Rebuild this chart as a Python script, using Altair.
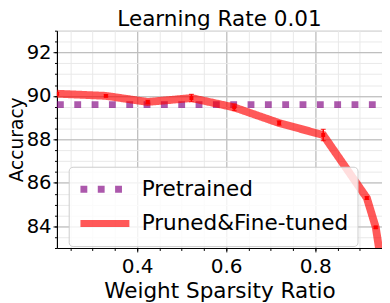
import altair as alt
import pandas as pd

# ---- data ----
sparsity = [0.22, 0.33, 0.424, 0.522, 0.618, 0.719, 0.818, 0.916, 0.936, 0.95]
accuracy = [90.1, 90.0, 89.72, 89.9, 89.47, 88.75, 88.2, 85.3, 83.95, 82.1]
error = [0.05, 0.05, 0.08, 0.17, 0.15, 0.1, 0.26, 0.06, 0.05, 0.1]
pretrained_x = [0.22, 0.95]
pretrained_acc = 89.6
series_names = ["Pretrained", "Pruned&Fine-tuned"]
x_major = [0.4, 0.6, 0.8]
x_minor = [round(0.25 + 0.05 * i, 2) for i in range(15)]
y_major = [84, 86, 88, 90, 92]
y_minor = [83 + 0.5 * i for i in range(21)]

FONT = "DejaVu Sans"

pre = pd.DataFrame({"x": pretrained_x, "y": [pretrained_acc] * len(pretrained_x),
                    "series": series_names[0]})
ft = pd.DataFrame({"x": sparsity, "y": accuracy, "err": error,
                   "series": series_names[1]})
ft["lo"] = ft["y"] - ft["err"]
ft["hi"] = ft["y"] + ft["err"]

xs = alt.Scale(domain=[0.22, 0.95], nice=False, zero=False)
ys = alt.Scale(domain=[83, 93], nice=False, zero=False)

color = alt.Color("series:N", scale=alt.Scale(domain=series_names,
                                              range=["#800080", "#ff0000"]),
                  legend=alt.Legend(title=None))
dash = alt.StrokeDash("series:N", scale=alt.Scale(domain=series_names,
                                                  range=[[7, 10.7], [1, 0]]),
                      legend=alt.Legend(title=None))

minor_x_axis = alt.Axis(values=x_minor, orient="bottom", labels=False, domain=False,
                        ticks=True, tickSize=2.5, tickColor="black", title=None,
                        grid=True, gridColor="#e8e8e8", gridWidth=1)
minor_y_axis = alt.Axis(values=y_minor, orient="left", labels=False, domain=False,
                        ticks=True, tickSize=2.5, tickColor="black", title=None,
                        grid=True, gridColor="#e8e8e8", gridWidth=1)

major_x_axis = alt.Axis(values=x_major, orient="bottom", format=".1f",
                        domain=True, domainColor="black", domainWidth=1.2,
                        ticks=True, tickSize=4, tickColor="black",
                        grid=True, gridColor="#b3b3b3", gridWidth=1,
                        labelFont=FONT, labelFontSize=20.5, labelColor="black",
                        labelPadding=5, title="Weight Sparsity Ratio",
                        titleFont=FONT, titleFontSize=22, titleFontWeight="normal",
                        titleColor="black", titlePadding=4)
major_y_axis = alt.Axis(values=y_major, orient="left", format="d",
                        domain=True, domainColor="black", domainWidth=1.2,
                        ticks=True, tickSize=4, tickColor="black",
                        grid=True, gridColor="#b3b3b3", gridWidth=1,
                        labelFont=FONT, labelFontSize=20, labelColor="black",
                        labelPadding=2, title="Accuracy",
                        titleFont=FONT, titleFontSize=19, titleFontWeight="normal",
                        titleColor="black", titlePadding=0)

pre_line = alt.Chart(pre).mark_line(strokeWidth=7, opacity=0.65, strokeCap="butt",
                                    clip=True).encode(
    x=alt.X("x:Q", scale=xs, axis=minor_x_axis),
    y=alt.Y("y:Q", scale=ys, axis=minor_y_axis),
    color=color, strokeDash=dash)

ft_line = alt.Chart(ft).mark_line(strokeWidth=8, opacity=0.65, clip=True).encode(
    x=alt.X("x:Q", scale=xs, axis=major_x_axis),
    y=alt.Y("y:Q", scale=ys, axis=major_y_axis),
    color=color, strokeDash=dash)

bars = alt.Chart(ft).mark_rule(color="red", strokeWidth=1.5, clip=True).encode(
    x=alt.X("x:Q", scale=xs, axis=None),
    y=alt.Y("lo:Q", scale=ys, axis=None), y2="hi:Q")
cap_lo = alt.Chart(ft).mark_tick(color="red", orient="horizontal", size=5,
                                 thickness=1.2, clip=True).encode(
    x=alt.X("x:Q", scale=xs, axis=None), y=alt.Y("lo:Q", scale=ys, axis=None))
cap_hi = alt.Chart(ft).mark_tick(color="red", orient="horizontal", size=5,
                                 thickness=1.2, clip=True).encode(
    x=alt.X("x:Q", scale=xs, axis=None), y=alt.Y("hi:Q", scale=ys, axis=None))
pts = alt.Chart(ft).mark_square(color="red", size=16, opacity=1, clip=True).encode(
    x=alt.X("x:Q", scale=xs, axis=None), y=alt.Y("y:Q", scale=ys, axis=None))

chart = alt.layer(pre_line, ft_line, bars, cap_lo, cap_hi, pts).resolve_axis(
    x="independent", y="independent"
).properties(
    width=332, height=222,
    title=alt.TitleParams("Learning Rate 0.01", font=FONT, fontSize=22,
                          fontWeight="normal", color="black", anchor="middle",
                          offset=-1),
    autosize=alt.AutoSizeParams(type="none"),
    padding={"left": 50, "top": 20, "right": 0, "bottom": 53},
).configure_view(stroke="#b3b3b3").configure_legend(
    orient="none", legendX=12, legendY=139,
    fillColor="rgba(255,255,255,0.8)", strokeColor="#cccccc", cornerRadius=4,
    padding=8.5, labelFont=FONT, labelFontSize=22, labelColor="black", labelLimit=400,
    symbolType="M-1,0H3.545", symbolSize=484, symbolStrokeWidth=7, symbolOpacity=0.65,
    labelOffset=37, rowPadding=6,
)

chart.save("out.html", embed_options={"renderer": "svg", "actions": False})
